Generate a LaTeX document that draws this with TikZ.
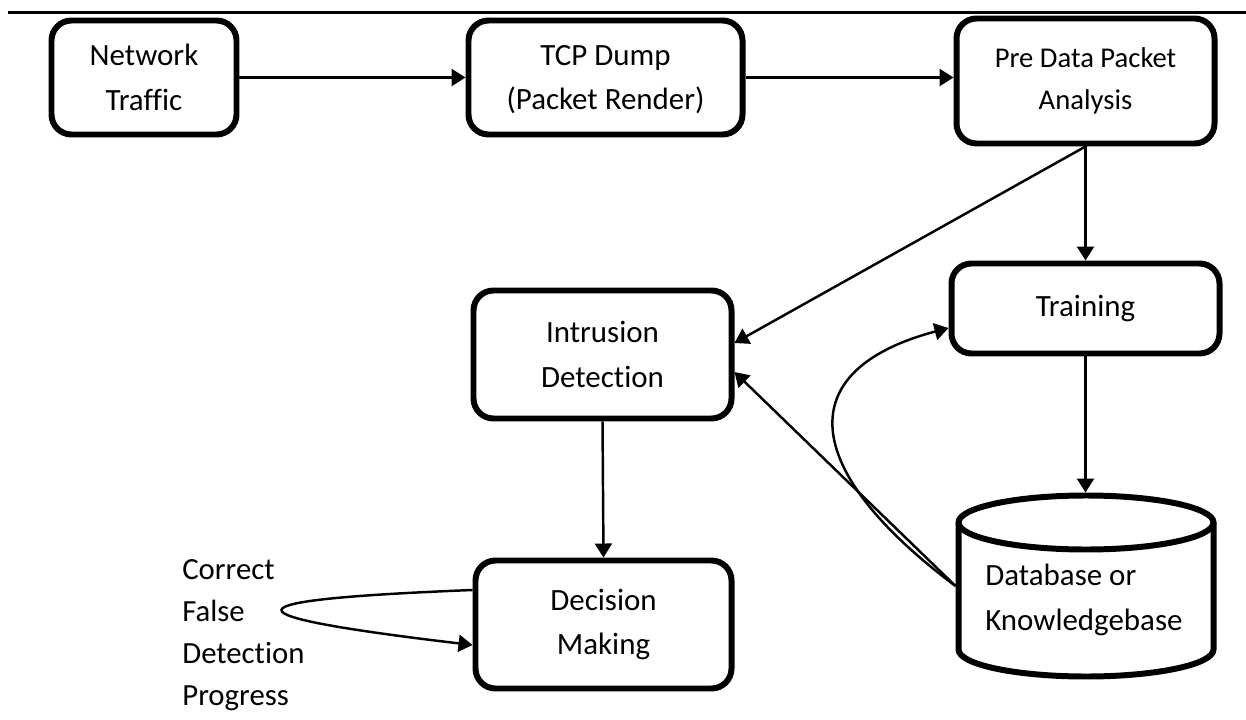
\documentclass[tikz,border=0pt]{standalone}
\usepackage{fontspec}
\setmainfont{Carlito}[Ligatures=NoCommon]
\usetikzlibrary{arrows.meta}

\begin{document}
\begin{tikzpicture}[>={Triangle[length=0.28cm,width=0.34cm]},
   box/.style={draw,line width=3.4pt,rounded corners=0.4cm,align=center,
      font=\fontsize{17.6}{25.5}\selectfont},
   link/.style={line width=1.4pt}]
   \useasboundingbox (0,0) rectangle (24.92,-14.38);
   \draw[line width=1.8pt] (0.16,-0.25) -- (24.92,-0.25);

   \node[box,minimum width=3.70cm,minimum height=2.28cm] (net) at (2.88,-1.55) {Network\\Traffic};
   \node[box,minimum width=5.48cm,minimum height=2.28cm,text depth=0pt] (tcp) at (12.11,-1.55) {TCP Dump\\(Packet Render)};
   \node[box,minimum width=5.16cm,minimum height=2.50cm,font=\fontsize{16.3}{24}\selectfont] (pre) at (21.71,-1.62) {Pre Data Packet\\Analysis};
   \node[box,minimum width=5.36cm,minimum height=1.80cm] (train) at (21.71,-6.17) {Training};
   \node[box,minimum width=5.16cm,minimum height=2.56cm] (intr) at (12.05,-7.09) {Intrusion\\Detection};
   \node[box,minimum width=5.12cm,minimum height=2.56cm] (dec) at (12.07,-12.49) {Decision\\Making};
   \node[minimum width=5.10cm,minimum height=3.62cm,line width=3.4pt] (db) at (21.72,-11.72) {};
   \node[anchor=west,align=left,inner sep=0pt,font=\fontsize{17.6}{25.5}\selectfont] (dbtext) at (19.70,-12.00) {Database or\\Knowledgebase};
   \node[anchor=west,align=left,inner sep=0pt,font=\fontsize{17.5}{24}\selectfont] (outcomes) at (3.64,-12.70) {Correct\\False\\Detection\\Progress};

   % database drum
   \draw[line width=3.4pt] (19.17,-10.45) -- (19.17,-12.99)
      arc[start angle=180,end angle=360,x radius=2.55,y radius=0.54] -- (24.27,-10.45)
      arc[start angle=0,end angle=180,x radius=2.55,y radius=0.54] -- cycle;
   \draw[line width=3.4pt] (19.17,-10.45) arc[start angle=180,end angle=360,x radius=2.55,y radius=0.54];

   \draw[->,link] (net.east) -- (tcp.west);
   \draw[->,link] (tcp.east) -- (tcp.east -| pre.west);
   \draw[->,link] (pre.south) -- (pre.south |- train.north);
   \draw[->,link] (pre.south) -- ([yshift=0.23cm]intr.east);
   \draw[->,link] (train.south) -- (train.south |- db.north);
   \draw[->,link] (db.west) -- ([yshift=-0.35cm]intr.east);
   \draw[->,link] (db.west) .. controls (16.0,-9.4) and (15.8,-7.4) .. ([yshift=-0.39cm]train.west);
   \draw[->,link] (intr.south) -- (dec.north);
   \draw[->,link] ([yshift=0.69cm]dec.west) .. controls (4.4,-12.0) and (4.4,-12.3) .. ([yshift=-0.41cm]dec.west);
\end{tikzpicture}
\end{document}
